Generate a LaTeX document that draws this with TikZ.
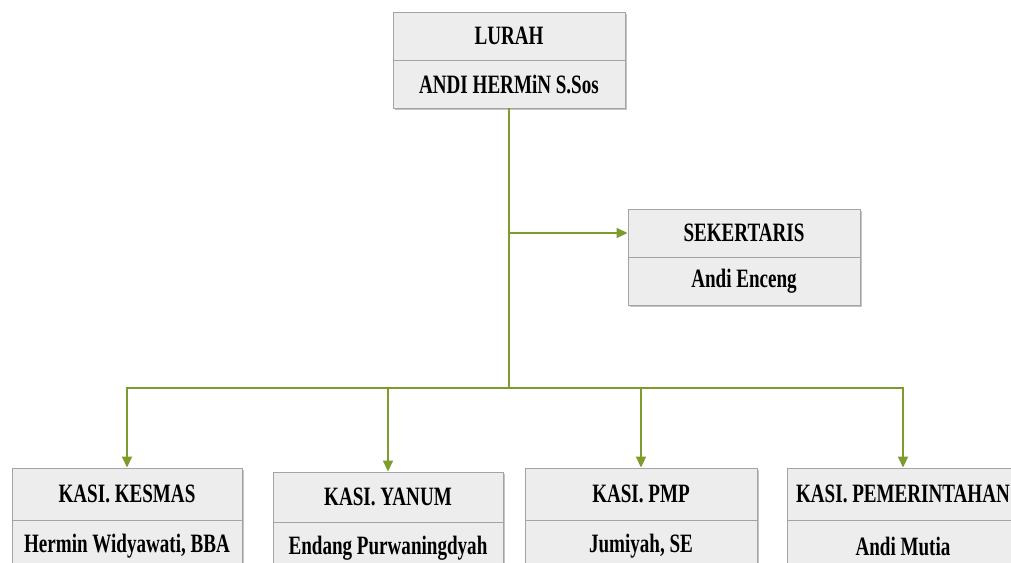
\documentclass[tikz,border=0pt]{standalone}
\usepackage{fontspec}
\setmainfont{Liberation Serif}[FakeStretch=0.72]
\usetikzlibrary{arrows.meta,shadows}
\definecolor{boxfill}{HTML}{EDEDED}
\definecolor{boxline}{HTML}{A3A3A3}
\definecolor{linkc}{HTML}{7E9C2E}
\definecolor{shadowc}{HTML}{B5B5B5}
\begin{document}
\begin{tikzpicture}[x=1pt,y=-1pt,
  cell/.style={draw=boxline, fill=boxfill, line width=0.9pt,
    minimum width=232pt, minimum height=48pt, inner sep=0pt,
    font=\fontsize{26.5}{30}\selectfont\bfseries,
    drop shadow={shadow xshift=1.5pt, shadow yshift=-2pt, fill=shadowc, opacity=0.8}},
  link/.style={draw=linkc, line width=1.6pt},
  arr/.style={link, -{Triangle[length=11pt,width=10pt]}}]
\useasboundingbox (0,0) rectangle (1011,562);
% top
\node[cell] (lurah) at (509,36) {LURAH};
\node[cell] (lurahn) at (509,84) {ANDI HERMiN S.Sos};
% sekertaris
\node[cell] (sek) at (744,233) {SEKERTARIS};
\node[cell] (sekn) at (744,281) {Andi Enceng};
% bottom row
\node[cell, minimum width=230pt, minimum height=52pt] (kesmas) at (127,494) {KASI. KESMAS};
\node[cell, minimum width=230pt, minimum height=52pt] (kesmasn) at (127,546) {Hermin Widyawati, BBA};
\node[cell, minimum width=230pt, minimum height=50pt] (yanum) at (388,497) {KASI. YANUM};
\node[cell, minimum width=230pt, minimum height=52pt] (yanumn) at (388,548) {Endang Purwaningdyah};
\node[cell, minimum width=232pt, minimum height=52pt] (pmp) at (641,494) {KASI. PMP};
\node[cell, minimum width=232pt, minimum height=52pt] (pmpn) at (641,546) {Jumiyah, SE};
\node[cell, minimum width=232pt, minimum height=52pt] (pem) at (903,494) {KASI. PEMERINTAHAN};
\node[cell, minimum width=232pt, minimum height=52pt] (pemn) at (903,546) {Andi Mutia};
% connectors
\coordinate (j1) at (509,233);
\coordinate (j2) at (509,388);
\draw[link] (lurahn.south) -- (j2);
\draw[arr] (j1) -- (sek.west);
\draw[arr] (j2) -| (kesmas.north);
\draw[arr] (j2) -| (yanum.north);
\draw[arr] (j2) -| (pmp.north);
\draw[arr] (j2) -| (pem.north);
\end{tikzpicture}
\end{document}
